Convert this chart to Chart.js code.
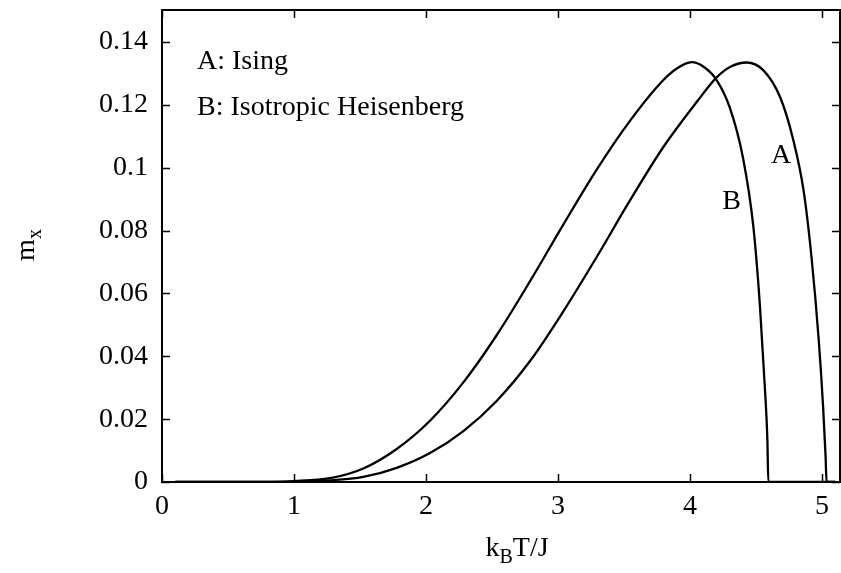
<!DOCTYPE html>
<html lang="en">
<head>
<meta charset="UTF-8">
<title>m_x vs k_BT/J</title>
<style>
  body { margin: 0; background: #fff; }
  #wrap { width: 841px; height: 573px; }
</style>
<script src="https://cdn.jsdelivr.net/npm/chart.js"></script>
</head>
<body>
<div id="wrap"><canvas id="chart" width="841" height="573"></canvas></div>
<script>
// curve A: Ising
const isingT = [0.1, 0.6, 1.0, 1.27, 1.525, 1.778, 2.03, 2.283, 2.535, 2.788, 3.04, 3.293, 3.545, 3.798, 4.05, 4.2, 4.31, 4.429, 4.556, 4.682, 4.783, 4.86, 4.92, 4.975, 5.008, 5.027, 5.034, 5.1];
const isingM = [0, 0, 0.0001, 0.0005, 0.0016, 0.0045, 0.0092, 0.0162, 0.0258, 0.0385, 0.0543, 0.0716, 0.0896, 0.1066, 0.1209, 0.1287, 0.1322, 0.1335, 0.131, 0.1225, 0.1087, 0.0928, 0.0716, 0.0451, 0.0239, 0.008, 0, 0];

// curve B: isotropic Heisenberg
const heisT = [0.1, 0.6, 1.0, 1.273, 1.525, 1.778, 2.03, 2.283, 2.535, 2.788, 3.04, 3.293, 3.545, 3.798, 3.9, 4.013, 4.1, 4.2, 4.3, 4.4, 4.48, 4.53, 4.568, 4.586, 4.593, 5.1];
const heisM = [0, 0, 0.0003, 0.0012, 0.0043, 0.0105, 0.0195, 0.0317, 0.0467, 0.0639, 0.0819, 0.0994, 0.1149, 0.1279, 0.1316, 0.1336, 0.1322, 0.1280, 0.1193, 0.1034, 0.0811, 0.0557, 0.0292, 0.0133, 0, 0];

const xTicks = [0, 1, 2, 3, 4, 5];
const yTicks = [0, 0.02, 0.04, 0.06, 0.08, 0.1, 0.12, 0.14];

const FONT = 'Liberation Serif';
Chart.defaults.font.family = FONT;
Chart.defaults.color = '#000';

function toPoints(xs, ys) {
    return xs.map((x, i) => ({ x: x, y: ys[i] }));
}

// frame, inward ticks, texts
const decor = {
    id: 'decor',
    afterDraw(chart) {
        const { ctx, chartArea: a, scales } = chart;
        ctx.save();
        ctx.strokeStyle = '#000';
        ctx.lineWidth = 1.5;
        const t = 8;
        ctx.beginPath();
        xTicks.forEach(v => {
            const px = Math.round(scales.x.getPixelForValue(v)) + 0.5;
            ctx.moveTo(px, a.bottom); ctx.lineTo(px, a.bottom - t);
            ctx.moveTo(px, a.top); ctx.lineTo(px, a.top + t);
        });
        yTicks.forEach(v => {
            const py = Math.round(scales.y.getPixelForValue(v)) + 0.5;
            ctx.moveTo(a.left, py); ctx.lineTo(a.left + t, py);
            ctx.moveTo(a.right, py); ctx.lineTo(a.right - t, py);
        });
        ctx.stroke();
        ctx.lineWidth = 2;
        ctx.strokeRect(a.left, a.top, a.right - a.left, a.bottom - a.top);

        ctx.fillStyle = '#000';
        ctx.textBaseline = 'alphabetic';
        ctx.textAlign = 'left';
        ctx.font = '28px ' + FONT;
        ctx.fillText('A: Ising', a.left + 35, 69);
        ctx.fillText('B: Isotropic Heisenberg', a.left + 35, 115);

        // curve labels
        ctx.textAlign = 'center';
        ctx.fillText('A', scales.x.getPixelForValue(4.69), scales.y.getPixelForValue(0.1015));
        ctx.fillText('B', scales.x.getPixelForValue(4.315), scales.y.getPixelForValue(0.0868));

        // x title: k_B T/J
        const big = '28px ' + FONT, small = '20px ' + FONT;
        ctx.textAlign = 'left';
        ctx.font = big; const wk = ctx.measureText('k').width, wt = ctx.measureText('T/J').width;
        ctx.font = small; const wb = ctx.measureText('B').width;
        let x0 = 517 - (wk + wb + wt) / 2;
        const by = 556;
        ctx.font = big; ctx.fillText('k', x0, by);
        ctx.font = small; ctx.fillText('B', x0 + wk, by + 7);
        ctx.font = big; ctx.fillText('T/J', x0 + wk + wb, by);

        // y title: m_x
        ctx.translate(34, 245);
        ctx.rotate(-Math.PI / 2);
        ctx.font = big; const wm = ctx.measureText('m').width;
        ctx.font = small; const wx = ctx.measureText('x').width;
        const s0 = -(wm + wx) / 2;
        ctx.font = big; ctx.fillText('m', s0, 0);
        ctx.font = small; ctx.fillText('x', s0 + wm, 7);
        ctx.restore();
    }
};

new Chart(document.getElementById('chart'), {
    type: 'scatter',
    data: {
        datasets: [{
            label: 'A: Ising',
            data: toPoints(isingT, isingM),
            showLine: true,
            borderColor: '#000',
            borderWidth: 2.3,
            pointRadius: 0,
            cubicInterpolationMode: 'monotone'
        }, {
            label: 'B: Isotropic Heisenberg',
            data: toPoints(heisT, heisM),
            showLine: true,
            borderColor: '#000',
            borderWidth: 2.3,
            pointRadius: 0,
            cubicInterpolationMode: 'monotone'
        }]
    },
    options: {
        responsive: false,
        animation: false,
        layout: { padding: { left: 0, top: 10, right: 1, bottom: 0 } },
        plugins: { legend: { display: false }, tooltip: { enabled: false } },
        scales: {
            x: {
                type: 'linear',
                min: 0,
                max: 5.136,
                grid: { display: false, drawTicks: false },
                border: { display: false },
                afterBuildTicks: s => { s.ticks = xTicks.map(v => ({ value: v })); },
                afterFit: s => { s.height = 91; s.paddingLeft = 0; s.paddingRight = 0; },
                ticks: { font: { size: 28 }, padding: 8, maxRotation: 0, callback: v => String(v) }
            },
            y: {
                type: 'linear',
                min: 0,
                max: 0.1502,
                grid: { display: false, drawTicks: false },
                border: { display: false },
                afterBuildTicks: s => { s.ticks = yTicks.map(v => ({ value: v })); },
                afterFit: s => { s.width = 162; s.paddingTop = 0; s.paddingBottom = 0; },
                ticks: { font: { size: 28 }, padding: 14, callback: v => String(+v.toFixed(2)) }
            }
        }
    },
    plugins: [decor]
});
</script>
</body>
</html>
